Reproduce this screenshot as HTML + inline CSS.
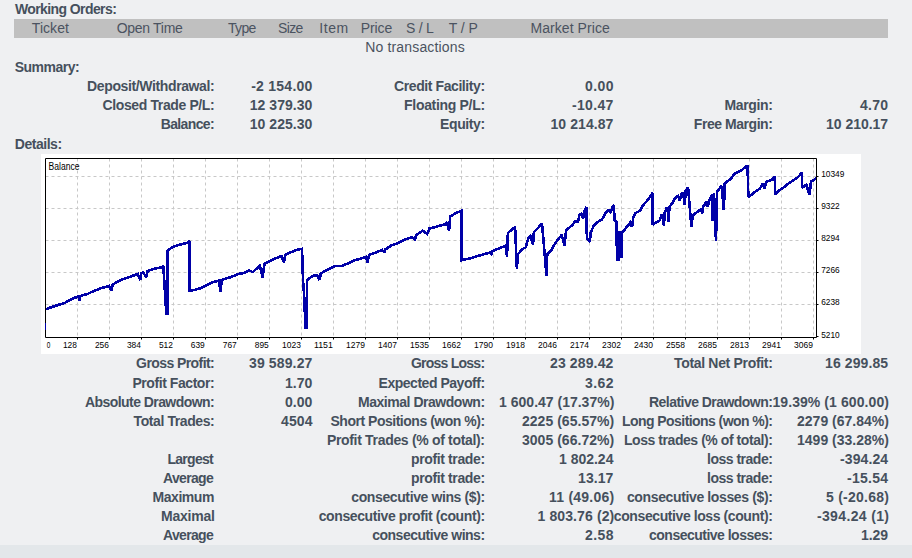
<!DOCTYPE html>
<html><head><meta charset="utf-8"><style>
html,body{margin:0;padding:0;}
body{width:912px;height:558px;overflow:hidden;background:#eff0f2;position:relative;font-family:"Liberation Sans",sans-serif;color:#46505d;}
div{position:absolute;white-space:nowrap;line-height:15px;font-size:14px;}
.b{font-weight:bold;}
.h{color:#4b5360;}
.n{color:#4b5360;}
#bar{left:14px;top:19px;width:874px;height:19px;background:#c0c0c0;}
#band{left:0;top:545px;width:912px;height:13px;background:#e3e7ea;}
#img{left:41px;top:154px;width:820px;height:200px;background:#fff;}
</style></head><body>
<div id="bar"></div>
<div id="band"></div>
<div id="img"><svg width="820" height="200" viewBox="0 0 820 200" style="position:absolute;left:0;top:0">
<path d="M4.5 22.5H775.5M4.5 54.5H775.5M4.5 86.5H775.5M4.5 118.5H775.5M4.5 150.5H775.5M36.5 4.5V183.5M68.5 4.5V183.5M100.5 4.5V183.5M132.5 4.5V183.5M164.5 4.5V183.5M196.5 4.5V183.5M228.5 4.5V183.5M260.5 4.5V183.5M292.5 4.5V183.5M324.5 4.5V183.5M356.5 4.5V183.5M388.5 4.5V183.5M420.5 4.5V183.5M452.5 4.5V183.5M484.5 4.5V183.5M516.5 4.5V183.5M548.5 4.5V183.5M580.5 4.5V183.5M612.5 4.5V183.5M644.5 4.5V183.5M676.5 4.5V183.5M708.5 4.5V183.5M740.5 4.5V183.5M772.5 4.5V183.5" stroke="#c8c8c8" stroke-width="1" stroke-dasharray="3 3" fill="none"/>
<g font-family="Liberation Sans" font-size="9" fill="#000"><text x="5.8" y="193.8" textLength="3.6" lengthAdjust="spacingAndGlyphs">0</text><text x="21.9" y="193.8" textLength="14.0" lengthAdjust="spacingAndGlyphs">128</text><text x="53.9" y="193.8" textLength="14.0" lengthAdjust="spacingAndGlyphs">256</text><text x="85.9" y="193.8" textLength="14.0" lengthAdjust="spacingAndGlyphs">384</text><text x="117.9" y="193.8" textLength="14.0" lengthAdjust="spacingAndGlyphs">512</text><text x="149.8" y="193.8" textLength="14.0" lengthAdjust="spacingAndGlyphs">639</text><text x="181.8" y="193.8" textLength="14.0" lengthAdjust="spacingAndGlyphs">767</text><text x="213.8" y="193.8" textLength="14.0" lengthAdjust="spacingAndGlyphs">895</text><text x="241.0" y="193.8" textLength="18.9" lengthAdjust="spacingAndGlyphs">1023</text><text x="273.0" y="193.8" textLength="18.9" lengthAdjust="spacingAndGlyphs">1151</text><text x="305.0" y="193.8" textLength="18.9" lengthAdjust="spacingAndGlyphs">1279</text><text x="337.0" y="193.8" textLength="18.9" lengthAdjust="spacingAndGlyphs">1407</text><text x="369.0" y="193.8" textLength="18.9" lengthAdjust="spacingAndGlyphs">1535</text><text x="401.0" y="193.8" textLength="18.9" lengthAdjust="spacingAndGlyphs">1662</text><text x="433.0" y="193.8" textLength="18.9" lengthAdjust="spacingAndGlyphs">1790</text><text x="465.0" y="193.8" textLength="18.9" lengthAdjust="spacingAndGlyphs">1918</text><text x="497.0" y="193.8" textLength="18.9" lengthAdjust="spacingAndGlyphs">2046</text><text x="529.0" y="193.8" textLength="18.9" lengthAdjust="spacingAndGlyphs">2174</text><text x="561.0" y="193.8" textLength="18.9" lengthAdjust="spacingAndGlyphs">2302</text><text x="593.0" y="193.8" textLength="18.9" lengthAdjust="spacingAndGlyphs">2430</text><text x="625.0" y="193.8" textLength="18.9" lengthAdjust="spacingAndGlyphs">2558</text><text x="657.0" y="193.8" textLength="18.9" lengthAdjust="spacingAndGlyphs">2685</text><text x="689.0" y="193.8" textLength="18.9" lengthAdjust="spacingAndGlyphs">2813</text><text x="721.0" y="193.8" textLength="18.9" lengthAdjust="spacingAndGlyphs">2941</text><text x="753.0" y="193.8" textLength="18.9" lengthAdjust="spacingAndGlyphs">3069</text><text x="780.2" y="23.1" textLength="23.2" lengthAdjust="spacingAndGlyphs">10349</text><text x="780.2" y="55.1" textLength="18.5" lengthAdjust="spacingAndGlyphs">9322</text><text x="780.2" y="87.1" textLength="18.5" lengthAdjust="spacingAndGlyphs">8294</text><text x="780.2" y="119.1" textLength="18.5" lengthAdjust="spacingAndGlyphs">7266</text><text x="780.2" y="151.1" textLength="18.5" lengthAdjust="spacingAndGlyphs">6238</text><text x="780.2" y="183.6" textLength="18.5" lengthAdjust="spacingAndGlyphs">5210</text><text x="7.6" y="16" font-size="10" textLength="31" lengthAdjust="spacingAndGlyphs">Balance</text></g>
<polyline points="4.4,155.3 15.1,151.6 24.1,148.8 31.3,144.6 37.5,142.5 38.4,146.3 39.5,142.0 47.4,139.6 51.0,137.8 60.0,134.2 68.0,131.9 70.7,136.9 71.5,131.0 74.3,128.9 81.4,125.3 88.6,123.0 96.7,119.9 99.4,126.2 100.0,119.0 102.0,118.7 105.6,123.0 106.5,117.2 111.9,115.1 120.9,113.3 122.3,111.8 125.3,159.3 126.6,159.3 126.6,96.6 131.6,93.0 137.0,91.2 144.2,89.4 147.5,88.5 148.6,86.8 148.6,136.9 153.0,136.0 159.8,134.2 166.9,130.7 172.3,128.0 177.7,126.7 179.8,137.8 180.5,126.0 182.2,125.3 190.2,123.0 197.4,119.9 202.8,119.0 208.1,116.3 211.7,118.1 218.9,111.8 221.6,123.5 223.4,110.0 231.4,105.6 240.4,102.0 243.1,108.3 244.0,101.0 248.5,98.9 256.5,95.7 261.0,94.8 262.0,126.0 263.0,140.0 264.0,162.0 264.5,174.0 265.5,174.0 266.0,126.0 272.2,121.7 276.5,121.7 278.7,126.0 279.8,119.5 289.7,114.0 295.2,111.8 300.7,112.2 313.8,106.3 324.8,103.0 326.5,108.5 328.1,100.8 335.8,98.2 341.2,96.0 343.4,98.6 344.5,95.3 351.1,91.0 355.5,89.9 364.3,85.5 370.8,83.3 374.1,85.5 375.2,81.1 381.8,76.7 386.2,80.0 388.4,74.5 395.0,72.8 404.8,70.1 405.9,67.9 408.1,76.7 409.2,62.4 414.7,59.2 420.2,57.0 420.2,106.3 430.0,104.1 441.0,100.8 449.0,98.5 450.4,100.0 451.5,97.0 456.2,95.1 461.5,93.0 465.1,91.6 466.0,103.2 466.9,79.0 472.3,74.5 474.1,73.6 475.9,114.9 476.8,100.5 481.3,95.1 484.8,93.3 487.5,83.5 489.3,81.7 492.0,90.7 492.9,78.1 497.4,73.6 501.0,69.2 505.5,122.0 506.3,99.6 510.0,97.0 514.4,88.9 520.7,80.8 523.4,91.6 525.2,76.3 531.4,71.0 534.0,67.3 537.1,67.3 538.4,61.1 540.3,59.8 542.2,64.2 543.4,56.7 545.3,52.9 545.9,84.3 548.8,88.0 549.7,78.6 552.8,71.7 556.6,68.0 561.0,65.5 564.1,59.8 567.2,56.0 569.5,58.0 571.6,52.9 572.9,51.0 573.5,66.1 575.5,68.0 576.0,106.0 577.5,106.0 577.5,77.4 579.0,78.6 580.0,102.4 581.0,102.4 581.0,78.6 584.2,74.9 589.2,68.6 591.0,73.0 592.3,63.6 594.2,59.2 599.2,56.7 601.7,51.7 606.7,46.0 611.7,38.8 611.7,70.8 615.1,68.5 618.9,66.2 620.4,60.9 622.0,64.0 623.0,72.3 623.5,59.3 625.8,53.2 626.8,56.0 627.6,67.7 628.5,52.5 631.9,48.7 634.1,44.1 637.2,41.8 638.7,46.4 641.0,38.0 642.5,42.0 643.7,51.0 644.8,36.5 647.1,33.4 649.4,61.6 650.5,73.0 651.7,61.6 656.2,57.8 660.0,55.5 661.6,59.3 662.3,52.5 665.4,47.9 666.9,53.2 667.7,47.1 671.5,40.3 671.8,67.0 673.0,38.8 675.0,86.8 676.0,38.0 680.6,31.9 682.9,56.3 683.7,29.6 689.0,25.4 690.4,24.3 693.1,19.8 699.4,17.1 706.5,11.4 707.4,43.1 715.5,36.8 719.0,34.5 722.1,29.1 723.6,34.5 725.2,28.0 730.6,25.7 733.6,22.6 734.4,40.7 737.5,36.8 742.1,33.8 746.0,30.7 751.4,26.8 756.8,23.3 761.0,18.7 761.0,33.8 765.3,30.7 768.7,41.1 769.9,27.6 775.2,24.5" fill="none" stroke="#0000a8" stroke-width="2.6" stroke-linejoin="miter" stroke-miterlimit="2" shape-rendering="crispEdges"/>
<path d="M4.5 4.5H775.5V183.5H4.5Z" stroke="#000" stroke-width="1" fill="none"/>
<path d="M36.5 183.5v2M68.5 183.5v2M100.5 183.5v2M132.5 183.5v2M164.5 183.5v2M196.5 183.5v2M228.5 183.5v2M260.5 183.5v2M292.5 183.5v2M324.5 183.5v2M356.5 183.5v2M388.5 183.5v2M420.5 183.5v2M452.5 183.5v2M484.5 183.5v2M516.5 183.5v2M548.5 183.5v2M580.5 183.5v2M612.5 183.5v2M644.5 183.5v2M676.5 183.5v2M708.5 183.5v2M740.5 183.5v2M772.5 183.5v2M775.5 22.5h2M775.5 54.5h2M775.5 86.5h2M775.5 118.5h2M775.5 150.5h2M775.5 182.5h2" stroke="#000" stroke-width="1"/>
<path d="M4.5 169v7" stroke="#0000a8" stroke-width="1"/>
</svg></div>
<div class="b" style="left:14.9px;top:2.3px;letter-spacing:-0.59px">Working Orders:</div>
<div class="b" style="left:14.7px;top:60.1px;letter-spacing:-0.50px">Summary:</div>
<div class="b" style="left:14.8px;top:137.0px;letter-spacing:-0.47px">Details:</div>
<div class="n" style="left:365.2px;top:39.6px;letter-spacing:0.16px">No transactions</div>
<div class="h" style="left:31.8px;top:21.1px;letter-spacing:0.05px">Ticket</div>
<div class="h" style="left:116.7px;top:21.1px;letter-spacing:-0.29px">Open Time</div>
<div class="h" style="left:228.0px;top:21.1px;letter-spacing:-0.66px">Type</div>
<div class="h" style="left:278.0px;top:21.1px;letter-spacing:-0.65px">Size</div>
<div class="h" style="left:319.2px;top:21.1px;letter-spacing:0.61px">Item</div>
<div class="h" style="left:360.8px;top:21.1px;letter-spacing:-0.10px">Price</div>
<div class="h" style="left:406.0px;top:21.1px;letter-spacing:-0.25px">S / L</div>
<div class="h" style="left:448.7px;top:21.1px;letter-spacing:-0.03px">T / P</div>
<div class="h" style="left:530.5px;top:21.1px;letter-spacing:0.06px">Market Price</div>
<div class="b" style="right:697.7px;top:79.4px;letter-spacing:-0.38px">Deposit/Withdrawal:</div>
<div class="b v" style="right:599.4px;top:79.4px;letter-spacing:0.25px">-2 154.00</div>
<div class="b" style="right:427.3px;top:79.4px;letter-spacing:-0.41px">Credit Facility:</div>
<div class="b v" style="right:298.2px;top:79.4px;letter-spacing:0.38px">0.00</div>
<div class="b" style="right:697.7px;top:98.4px;letter-spacing:-0.38px">Closed Trade P/L:</div>
<div class="b v" style="right:599.6px;top:98.4px;letter-spacing:0.04px">12 379.30</div>
<div class="b" style="right:427.2px;top:98.4px;letter-spacing:-0.31px">Floating P/L:</div>
<div class="b v" style="right:298.3px;top:98.4px;letter-spacing:0.34px">-10.47</div>
<div class="b" style="right:139.5px;top:98.4px;letter-spacing:-0.36px">Margin:</div>
<div class="b v" style="right:23.6px;top:98.4px;letter-spacing:0.28px">4.70</div>
<div class="b" style="right:698.0px;top:117.4px;letter-spacing:-0.63px">Balance:</div>
<div class="b v" style="right:599.6px;top:117.4px;letter-spacing:0.04px">10 225.30</div>
<div class="b" style="right:427.3px;top:117.4px;letter-spacing:-0.40px">Equity:</div>
<div class="b v" style="right:298.5px;top:117.4px;letter-spacing:0.09px">10 214.87</div>
<div class="b" style="right:139.6px;top:117.4px;letter-spacing:-0.45px">Free Margin:</div>
<div class="b v" style="right:23.9px;top:117.4px;letter-spacing:-0.02px">10 210.17</div>
<div class="b" style="right:697.9px;top:356.4px;letter-spacing:-0.58px">Gross Profit:</div>
<div class="b v" style="right:599.5px;top:356.4px;letter-spacing:0.14px">39 589.27</div>
<div class="b" style="right:427.7px;top:356.4px;letter-spacing:-0.76px">Gross Loss:</div>
<div class="b v" style="right:298.5px;top:356.4px;letter-spacing:0.14px">23 289.42</div>
<div class="b" style="right:139.5px;top:356.4px;letter-spacing:-0.32px">Total Net Profit:</div>
<div class="b v" style="right:23.8px;top:356.4px;letter-spacing:0.10px">16 299.85</div>
<div class="b" style="right:697.8px;top:375.5px;letter-spacing:-0.44px">Profit Factor:</div>
<div class="b v" style="right:599.6px;top:375.5px;letter-spacing:0.05px">1.70</div>
<div class="b" style="right:427.4px;top:375.5px;letter-spacing:-0.47px">Expected Payoff:</div>
<div class="b v" style="right:298.2px;top:375.5px;letter-spacing:0.38px">3.62</div>
<div class="b" style="right:697.9px;top:394.6px;letter-spacing:-0.56px">Absolute Drawdown:</div>
<div class="b v" style="right:599.6px;top:394.6px;letter-spacing:0.05px">0.00</div>
<div class="b" style="right:427.4px;top:394.6px;letter-spacing:-0.47px">Maximal Drawdown:</div>
<div class="b v" style="right:297.7px;top:394.6px;letter-spacing:0.00px">1 600.47 (17.37%)</div>
<div class="b" style="right:139.7px;top:394.6px;letter-spacing:-0.54px">Relative Drawdown:</div>
<div class="b v" style="right:23.0px;top:394.6px;letter-spacing:0.08px">19.39% (1 600.00)</div>
<div class="b" style="right:697.7px;top:413.7px;letter-spacing:-0.41px">Total Trades:</div>
<div class="b v" style="right:599.5px;top:413.7px;letter-spacing:0.08px">4504</div>
<div class="b" style="right:427.4px;top:413.7px;letter-spacing:-0.48px">Short Positions (won %):</div>
<div class="b v" style="right:297.7px;top:413.7px;letter-spacing:0.04px">2225 (65.57%)</div>
<div class="b" style="right:139.7px;top:413.7px;letter-spacing:-0.57px">Long Positions (won %):</div>
<div class="b v" style="right:23.0px;top:413.7px;letter-spacing:0.01px">2279 (67.84%)</div>
<div class="b" style="right:427.3px;top:432.8px;letter-spacing:-0.32px">Profit Trades (% of total):</div>
<div class="b v" style="right:297.7px;top:432.8px;letter-spacing:0.04px">3005 (66.72%)</div>
<div class="b" style="right:139.6px;top:432.8px;letter-spacing:-0.44px">Loss trades (% of total):</div>
<div class="b v" style="right:23.0px;top:432.8px;letter-spacing:0.01px">1499 (33.28%)</div>
<div class="b" style="right:699.1px;top:451.9px;letter-spacing:-0.74px">Largest</div>
<div class="b" style="right:427.3px;top:451.9px;letter-spacing:-0.37px">profit trade:</div>
<div class="b v" style="right:298.6px;top:451.9px;letter-spacing:-0.02px">1 802.24</div>
<div class="b" style="right:139.6px;top:451.9px;letter-spacing:-0.49px">loss trade:</div>
<div class="b v" style="right:23.8px;top:451.9px;letter-spacing:0.10px">-394.24</div>
<div class="b" style="right:698.9px;top:471.0px;letter-spacing:-0.66px">Average</div>
<div class="b" style="right:427.3px;top:471.0px;letter-spacing:-0.37px">profit trade:</div>
<div class="b v" style="right:298.5px;top:471.0px;letter-spacing:0.09px">13.17</div>
<div class="b" style="right:139.6px;top:471.0px;letter-spacing:-0.49px">loss trade:</div>
<div class="b v" style="right:23.6px;top:471.0px;letter-spacing:0.28px">-15.54</div>
<div class="b" style="right:698.0px;top:490.1px;letter-spacing:-0.44px">Maximum</div>
<div class="b" style="right:427.3px;top:490.1px;letter-spacing:-0.39px">consecutive wins ($):</div>
<div class="b v" style="right:297.5px;top:490.1px;letter-spacing:0.25px">11 (49.06)</div>
<div class="b" style="right:139.5px;top:490.1px;letter-spacing:-0.37px">consecutive losses ($):</div>
<div class="b v" style="right:22.8px;top:490.1px;letter-spacing:0.25px">5 (-20.68)</div>
<div class="b" style="right:697.3px;top:509.2px;letter-spacing:-0.23px">Maximal</div>
<div class="b" style="right:427.3px;top:509.2px;letter-spacing:-0.39px">consecutive profit (count):</div>
<div class="b v" style="right:297.6px;top:509.2px;letter-spacing:0.12px">1 803.76 (2)</div>
<div class="b" style="right:139.6px;top:509.2px;letter-spacing:-0.41px">consecutive loss (count):</div>
<div class="b v" style="right:22.7px;top:509.2px;letter-spacing:0.35px">-394.24 (1)</div>
<div class="b" style="right:698.9px;top:528.3px;letter-spacing:-0.66px">Average</div>
<div class="b" style="right:427.4px;top:528.3px;letter-spacing:-0.48px">consecutive wins:</div>
<div class="b v" style="right:298.2px;top:528.3px;letter-spacing:0.38px">2.58</div>
<div class="b" style="right:139.6px;top:528.3px;letter-spacing:-0.51px">consecutive losses:</div>
<div class="b v" style="right:24.0px;top:528.3px;letter-spacing:-0.05px">1.29</div>
</body></html>
